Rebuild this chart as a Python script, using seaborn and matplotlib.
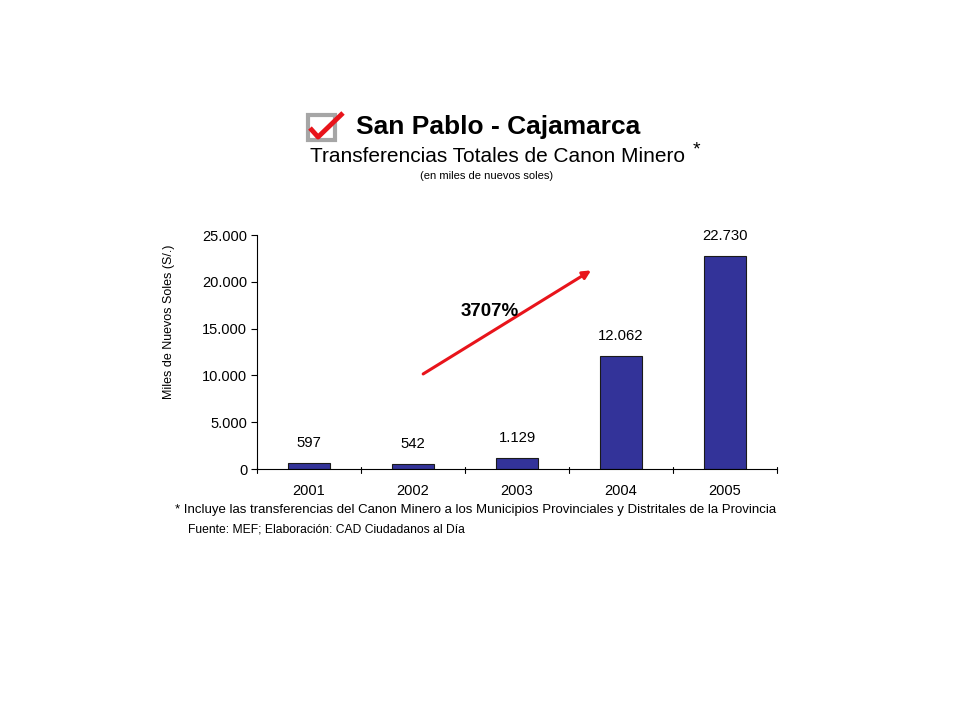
import numpy as np
import pandas as pd
import matplotlib.pyplot as plt
import matplotlib.patches as mpatches
import seaborn as sns

# data
years = ["2001", "2002", "2003", "2004", "2005"]
transfers = [597, 542, 1129, 12062, 22730]
value_labels = ["597", "542", "1.129", "12.062", "22.730"]
y_ticks = [0, 5000, 10000, 15000, 20000, 25000]
y_tick_labels = ["0", "5.000", "10.000", "15.000", "20.000", "25.000"]
growth_label = "3707%"

sns.set_style("white")
plt.rcParams['font.family'] = ['Liberation Sans', 'DejaVu Sans']
plt.rcParams['text.color'] = 'black'
plt.rcParams['xtick.color'] = 'black'
plt.rcParams['ytick.color'] = 'black'
plt.rcParams['axes.labelcolor'] = 'black'

df = pd.DataFrame({"year": years, "value": transfers})

fig = plt.figure(figsize=(9.6, 7.2), dpi=100)
ax = fig.add_axes([0.2677, 0.3486, 0.5417, 0.325])

sns.barplot(data=df, x="year", y="value", color="#333399", width=0.4,
            edgecolor="#1a1a1a", linewidth=0.8, saturation=1, ax=ax)

ax.set_xlim(-0.5, 4.5)
ax.set_ylim(0, 25000)
ax.set_yticks(y_ticks)
ax.set_yticklabels(y_tick_labels, fontsize=10.5)
ax.tick_params(axis="x", labelsize=10.5, length=0, pad=11)
ax.tick_params(axis="y", length=4, width=0.8, direction="out", left=True, pad=3)
for s in ["top", "right"]:
    ax.spines[s].set_visible(False)
for s in ["left", "bottom"]:
    ax.spines[s].set_color("black")
    ax.spines[s].set_linewidth(0.8)
# category boundary ticks on x axis
for b in np.arange(-0.5, 5.0, 1.0):
    ax.plot([b, b], [0.008, -0.018], transform=ax.get_xaxis_transform(),
            color="black", lw=0.8, clip_on=False)

ax.set_xlabel("")
ax.set_ylabel("Miles de Nuevos Soles (S/.)", fontsize=9)
ax.yaxis.set_label_coords(-0.158, 0.628)

for i, (v, lab) in enumerate(zip(transfers, value_labels)):
    ax.text(i, v + 1400, lab, ha="center", va="bottom", fontsize=10.7)

# growth arrow
ax.annotate("", xy=(0.647, 0.855), xytext=(0.315, 0.40), xycoords="axes fraction",
            arrowprops=dict(arrowstyle="-|>", color="#e8141b", lw=2.2,
                            mutation_scale=12))
ax.text(0.447, 0.675, growth_label, transform=ax.transAxes, ha="center",
        va="center", fontsize=13.5, fontweight="bold")

# titles
fig.text(0.519, 0.823, "San Pablo - Cajamarca", ha="center", va="center",
         fontsize=19, fontweight="bold")
fig.text(0.518, 0.782, "Transferencias Totales de Canon Minero", ha="center",
         va="center", fontsize=15)
fig.text(0.726, 0.792, "*", ha="center", va="center", fontsize=14)
fig.text(0.507, 0.756, "(en miles de nuevos soles)", ha="center", va="center",
         fontsize=8)

# checkbox icon
fig.patches.append(mpatches.Rectangle((0.3208, 0.8056), 0.028, 0.0347,
                                      transform=fig.transFigure, facecolor="white",
                                      edgecolor="#a6a6a6", lw=3))
fig.lines.append(plt.Line2D([0.3229, 0.3313, 0.3573], [0.8222, 0.8097, 0.8431],
                            transform=fig.transFigure, color="#e8141b",
                            lw=3.5, solid_capstyle="butt"))

# footnotes
fig.text(0.182, 0.291, "* Incluye las transferencias del Canon Minero a los Municipios "
         "Provinciales y Distritales de la Provincia", ha="left", va="center",
         fontsize=9.5)
fig.text(0.196, 0.265, "Fuente: MEF; Elaboración: CAD Ciudadanos al Día",
         ha="left", va="center", fontsize=8.7)

fig.savefig("out.png", dpi=100)
